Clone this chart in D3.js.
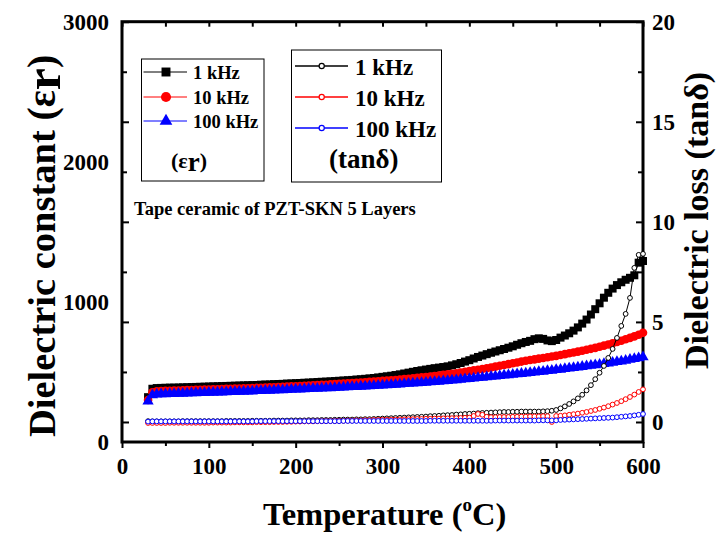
<!DOCTYPE html>
<html>
<head>
<meta charset="utf-8">
<script src="https://cdn.jsdelivr.net/npm/d3@7/dist/d3.min.js"></script>
<style>
  html, body { margin: 0; padding: 0; background: #fff; }
  svg { display: block; }
  text { font-family: "Liberation Serif", "Times New Roman", serif; font-weight: bold; fill: #000; }
</style>
</head>
<body>
<svg id="chart" width="716" height="535"></svg>
<script>
// Temperature grid (°C), one reading every 5 degrees
const temps = d3.range(30, 601, 5);

// Dielectric constant εr
const erBlack = [
  320, 380, 385, 386, 387, 388, 388, 389, 390, 391, 392, 393, 394, 395, 396,
  397, 398, 399, 400, 401, 402, 403, 404, 405, 406, 407, 409, 410, 411, 413, 414, 415, 417, 418, 420,
  421, 423, 424, 426, 428, 430, 431, 433, 435, 437, 439, 441, 443, 446, 448, 451, 454, 457, 461, 465,
  469, 473, 478, 483, 489, 495, 501, 507, 512, 517, 522, 527, 531, 535, 540, 547, 555, 564, 574, 584,
  596, 607, 617, 627, 637, 646, 655, 664, 673, 683, 694, 705, 714, 722, 734, 740, 736, 725, 720, 728,
  745, 760, 776, 795, 818, 845, 874, 910, 948, 990, 1030, 1065, 1095, 1120, 1140, 1158, 1172, 1190, 1280, 1292
];
const erRed = [
  300, 355, 362, 364, 365, 366, 367, 368, 369, 370, 371, 372, 373, 374, 375,
  376, 377, 378, 379, 380, 381, 382, 383, 384, 385, 386, 387, 388, 390, 391, 392, 394, 395, 397, 398,
  400, 401, 403, 404, 406, 408, 409, 411, 413, 415, 417, 419, 421, 423, 425, 427, 429, 431, 433, 436,
  438, 441, 443, 446, 449, 452, 455, 458, 461, 464, 467, 471, 475, 479, 483, 487, 491, 496, 501, 506,
  511, 516, 521, 526, 532, 538, 544, 550, 556, 562, 568, 574, 580, 585, 590, 595, 600, 605, 610, 615,
  621, 627, 633, 639, 645, 651, 658, 665, 672, 680, 688, 696, 705, 714, 723, 733, 743, 754, 766, 780
];
const erBlue = [
  290, 335, 340, 342, 343, 344, 345, 346, 347, 348, 349, 350, 351, 352, 353,
  354, 355, 356, 357, 358, 359, 360, 361, 362, 363, 365, 366, 367, 368, 369, 371, 372, 373, 374, 376,
  377, 378, 380, 381, 382, 384, 385, 386, 388, 389, 391, 392, 394, 395, 397, 398, 400, 401, 403, 405,
  407, 409, 411, 413, 415, 417, 419, 421, 423, 425, 428, 430, 432, 435, 437, 440, 443, 446, 449, 452,
  455, 458, 461, 464, 467, 470, 473, 476, 479, 482, 485, 488, 491, 494, 497, 501, 504, 508, 511, 515,
  518, 522, 526, 530, 534, 538, 542, 546, 550, 554, 558, 563, 567, 572, 577, 582, 588, 594, 600, 606
];

// Dielectric loss tanδ
const tanBlack = [
  0.04, 0.03, 0.03, 0.03, 0.03, 0.03, 0.03, 0.03, 0.04, 0.04, 0.04, 0.04, 0.04, 0.04, 0.04,
  0.04, 0.04, 0.04, 0.05, 0.05, 0.05, 0.05, 0.05, 0.05, 0.06, 0.06, 0.06, 0.06, 0.06, 0.07, 0.07, 0.07, 0.07, 0.08, 0.08,
  0.08, 0.08, 0.09, 0.09, 0.09, 0.10, 0.10, 0.10, 0.11, 0.11, 0.12, 0.12, 0.12, 0.13, 0.13, 0.14, 0.14, 0.15, 0.16, 0.17,
  0.18, 0.19, 0.20, 0.21, 0.22, 0.23, 0.24, 0.25, 0.26, 0.27, 0.29, 0.30, 0.31, 0.33, 0.34, 0.35, 0.37, 0.38, 0.40, 0.41,
  0.42, 0.44, 0.45, 0.46, 0.47, 0.48, 0.49, 0.50, 0.50, 0.51, 0.51, 0.52, 0.52, 0.52, 0.52, 0.52, 0.53, 0.54, 0.56, 0.60,
  0.68, 0.78, 0.90, 1.03, 1.18, 1.36, 1.58, 1.84, 2.14, 2.46, 2.80, 3.20, 3.65, 4.20, 4.80, 5.40, 6.20, 7.70, 8.35, 8.40
];
const tanRed = [
  -0.05, -0.05, -0.05, -0.05, -0.05, -0.04, -0.04, -0.04, -0.04, -0.04, -0.04, -0.04, -0.04, -0.04, -0.04,
  -0.03, -0.03, -0.03, -0.03, -0.03, -0.02, -0.02, -0.02, -0.02, -0.02, -0.01, -0.01, -0.01, -0.01, 0.00, 0.00, 0.00, 0.01, 0.01, 0.02,
  0.02, 0.03, 0.03, 0.03, 0.04, 0.04, 0.05, 0.05, 0.05, 0.06, 0.06, 0.07, 0.07, 0.08, 0.08, 0.09, 0.09, 0.10, 0.10, 0.11,
  0.11, 0.12, 0.12, 0.13, 0.13, 0.14, 0.14, 0.15, 0.15, 0.16, 0.16, 0.17, 0.17, 0.18, 0.18, 0.19, 0.19, 0.20, 0.21, 0.22,
  0.30, 0.40, 0.36, 0.26, 0.24, 0.24, 0.25, 0.25, 0.25, 0.26, 0.26, 0.27, 0.27, 0.28, 0.28, 0.28, 0.29, 0.29, 0.00, 0.30,
  0.31, 0.33, 0.36, 0.39, 0.42, 0.46, 0.50, 0.55, 0.60, 0.66, 0.72, 0.79, 0.87, 0.95, 1.04, 1.14, 1.25, 1.37, 1.50, 1.63
];
const tanBlue = [
  0.02, 0.03, 0.03, 0.03, 0.03, 0.03, 0.03, 0.03, 0.03, 0.03, 0.03, 0.03, 0.03, 0.03, 0.03,
  0.03, 0.03, 0.03, 0.03, 0.03, 0.03, 0.03, 0.03, 0.03, 0.03, 0.04, 0.04, 0.04, 0.04, 0.04, 0.04, 0.04, 0.04, 0.04, 0.04,
  0.04, 0.04, 0.04, 0.04, 0.04, 0.04, 0.04, 0.04, 0.04, 0.04, 0.05, 0.05, 0.05, 0.05, 0.05, 0.05, 0.05, 0.05, 0.05, 0.05,
  0.05, 0.05, 0.05, 0.05, 0.05, 0.05, 0.05, 0.05, 0.05, 0.05, 0.06, 0.06, 0.06, 0.06, 0.06, 0.06, 0.06, 0.06, 0.06, 0.06,
  0.06, 0.06, 0.06, 0.06, 0.06, 0.07, 0.07, 0.07, 0.07, 0.07, 0.07, 0.07, 0.07, 0.07, 0.07, 0.08, 0.08, 0.08, 0.08, 0.08,
  0.10, 0.11, 0.12, 0.13, 0.14, 0.15, 0.16, 0.17, 0.18, 0.19, 0.20, 0.21, 0.22, 0.24, 0.26, 0.28, 0.30, 0.33, 0.36, 0.40
];

// Axis tick values and legend labels
const xMajorTicks = [0, 100, 200, 300, 400, 500, 600];
const xMinorTicks = [50, 150, 250, 350, 450, 550];
const erTicks = [0, 1000, 2000, 3000];
const tanMajorTicks = [0, 5, 10, 15, 20];
const tanMinorTicks = [2.5, 7.5, 12.5, 17.5];
const freqLabels = ["1 kHz", "10 kHz", "100 kHz"];
const colors = ["#000000", "#ff0000", "#0000ff"];

const svg = d3.select("#chart");
const L = 122, R = 643, T = 21.7, B = 442;

const x = d3.scaleLinear().domain([0, 600]).range([L, R]);
const yEr = d3.scaleLinear().domain([0, 3000]).range([B, T]);
const yTan = d3.scaleLinear().domain([-1, 20]).range([B, T]);

// ---- axes ----
function styleAxis(g) {
  g.select(".domain").remove();
  g.selectAll(".tick line").attr("stroke", "#000").attr("stroke-width", 2);
}
// bottom: outward ticks with labels
svg.append("g").attr("transform", `translate(0,${B})`)
  .call(d3.axisBottom(x).tickValues(xMajorTicks).tickSize(6).tickFormat(d3.format("d")))
  .call(styleAxis)
  .call(g => g.selectAll("text").attr("y", 0).attr("dy", 32).style("font-size", "23px").style("font-family", null));
svg.append("g").attr("transform", `translate(0,${B})`)
  .call(d3.axisBottom(x).tickValues(xMinorTicks).tickSize(4).tickFormat(""))
  .call(styleAxis);
// top: inward ticks
svg.append("g").attr("transform", `translate(0,${T})`)
  .call(d3.axisBottom(x).tickValues(xMajorTicks.concat(xMinorTicks)).tickSize(5).tickFormat(""))
  .call(styleAxis);
// left: εr labels, tick marks follow the tanδ grid
svg.append("g").attr("transform", `translate(${L},0)`)
  .call(d3.axisLeft(yEr).tickValues(erTicks).tickSize(0).tickPadding(13).tickFormat(d3.format("d")))
  .call(styleAxis)
  .call(g => g.selectAll("text").style("font-size", "23px").style("font-family", null));
svg.append("g").attr("transform", `translate(${L},0)`)
  .call(d3.axisRight(yTan).tickValues(tanMajorTicks).tickSize(7).tickFormat(""))
  .call(styleAxis);
svg.append("g").attr("transform", `translate(${L},0)`)
  .call(d3.axisRight(yTan).tickValues(tanMinorTicks).tickSize(5).tickFormat(""))
  .call(styleAxis);
// right: tanδ labels with inward ticks
svg.append("g").attr("transform", `translate(${R},0)`)
  .call(d3.axisRight(yTan).tickValues(tanMajorTicks).tickSize(0).tickPadding(9).tickFormat(d3.format("d")))
  .call(styleAxis)
  .call(g => g.selectAll("text").style("font-size", "23px").style("font-family", null));
svg.append("g").attr("transform", `translate(${R},0)`)
  .call(d3.axisLeft(yTan).tickValues(tanMajorTicks).tickSize(7).tickFormat(""))
  .call(styleAxis);
svg.append("g").attr("transform", `translate(${R},0)`)
  .call(d3.axisLeft(yTan).tickValues(tanMinorTicks).tickSize(5).tickFormat(""))
  .call(styleAxis);

// frame
svg.append("rect").attr("x", L).attr("y", T).attr("width", R - L).attr("height", B - T)
  .attr("fill", "none").attr("stroke", "#000").attr("stroke-width", 3);

// ---- data ----
const plot = svg.append("g");
const erSeries = [erBlack, erRed, erBlue];
const tanSeries = [tanBlack, tanRed, tanBlue];
const erSymbols = [d3.symbol().type(d3.symbolSquare).size(64),
                   d3.symbol().type(d3.symbolCircle).size(58),
                   d3.symbol().type(d3.symbolTriangle).size(55)];

erSeries.forEach((vals, i) => {
  const pts = temps.map((t, k) => [t, vals[k]]);
  plot.append("path").datum(pts)
    .attr("fill", "none").attr("stroke", colors[i]).attr("stroke-width", 1)
    .attr("d", d3.line().x(d => x(d[0])).y(d => yEr(d[1])));
  plot.append("g").selectAll("path").data(pts).join("path")
    .attr("transform", d => `translate(${x(d[0])},${yEr(d[1])})`)
    .attr("d", erSymbols[i]).attr("fill", colors[i]);
});

tanSeries.forEach((vals, i) => {
  const pts = temps.map((t, k) => [t, vals[k]]);
  plot.append("path").datum(pts)
    .attr("fill", "none").attr("stroke", colors[i]).attr("stroke-width", 1)
    .attr("d", d3.line().x(d => x(d[0])).y(d => yTan(d[1])));
  plot.append("g").selectAll("circle").data(pts).join("circle")
    .attr("cx", d => x(d[0])).attr("cy", d => yTan(d[1])).attr("r", 2.4)
    .attr("fill", "#fff").attr("stroke", colors[i]).attr("stroke-width", 1);
});

// ---- legend: εr ----
const leg1 = svg.append("g");
leg1.append("rect").attr("x", 141.5).attr("y", 59).attr("width", 122.5).attr("height", 122)
  .attr("fill", "#fff").attr("stroke", "#000").attr("stroke-width", 1);
[72, 97, 121].forEach((yy, i) => {
  leg1.append("line").attr("x1", 143.5).attr("x2", 187).attr("y1", yy).attr("y2", yy)
    .attr("stroke", colors[i]).attr("stroke-width", 1);
  leg1.append("path").attr("transform", `translate(166,${yy})`)
    .attr("d", d3.symbol().type([d3.symbolSquare, d3.symbolCircle, d3.symbolTriangle][i]).size(i === 2 ? 70 : 80)())
    .attr("fill", colors[i]);
  leg1.append("text").attr("x", 193).attr("y", yy + 7).style("font-size", "18.5px").text(freqLabels[i]);
});
const epsLeg = leg1.append("text").attr("x", 171).attr("y", 168).style("font-size", "22px");
epsLeg.append("tspan").text("(ε");
epsLeg.append("tspan").attr("dy", 3).style("font-size", "27px").text("r");
epsLeg.append("tspan").attr("dy", -3).text(")");

// ---- legend: tanδ ----
const leg2 = svg.append("g");
leg2.append("rect").attr("x", 291.5).attr("y", 50).attr("width", 150).attr("height", 132)
  .attr("fill", "#fff").attr("stroke", "#000").attr("stroke-width", 1);
[66, 97, 128].forEach((yy, i) => {
  leg2.append("line").attr("x1", 295).attr("x2", 348).attr("y1", yy).attr("y2", yy)
    .attr("stroke", colors[i]).attr("stroke-width", 1.3);
  leg2.append("circle").attr("cx", 321.7).attr("cy", yy).attr("r", 2.6)
    .attr("fill", "#fff").attr("stroke", colors[i]).attr("stroke-width", 1.2);
  leg2.append("text").attr("x", 355).attr("y", yy + 9).style("font-size", "23px").text(freqLabels[i]);
});
leg2.append("text").attr("x", 329).attr("y", 168).style("font-size", "27px").text("(tanδ)");

// ---- annotations & axis titles ----
svg.append("text").attr("x", 134).attr("y", 215).style("font-size", "18.5px")
  .text("Tape ceramic of PZT-SKN 5 Layers");

const xt = svg.append("text").attr("x", 263).attr("y", 525).style("font-size", "32.5px");
xt.append("tspan").text("Temperature (");
xt.append("tspan").attr("dy", -14).style("font-size", "19px").text("o");
xt.append("tspan").attr("dy", 14).text("C)");

const yl = svg.append("text").attr("transform", "translate(55,437) rotate(-90)").style("font-size", "38.5px");
yl.append("tspan").text("Dielectric constant ");
yl.append("tspan").style("font-size", "40px").text("(ε");
yl.append("tspan").attr("dy", 5).style("font-size", "50px").text("r");
yl.append("tspan").attr("dy", -5).style("font-size", "40px").text(")");

svg.append("text").attr("transform", "translate(708,369) rotate(-90)").style("font-size", "34px")
  .text("Dielectric loss (tanδ)");
</script>
</body>
</html>
